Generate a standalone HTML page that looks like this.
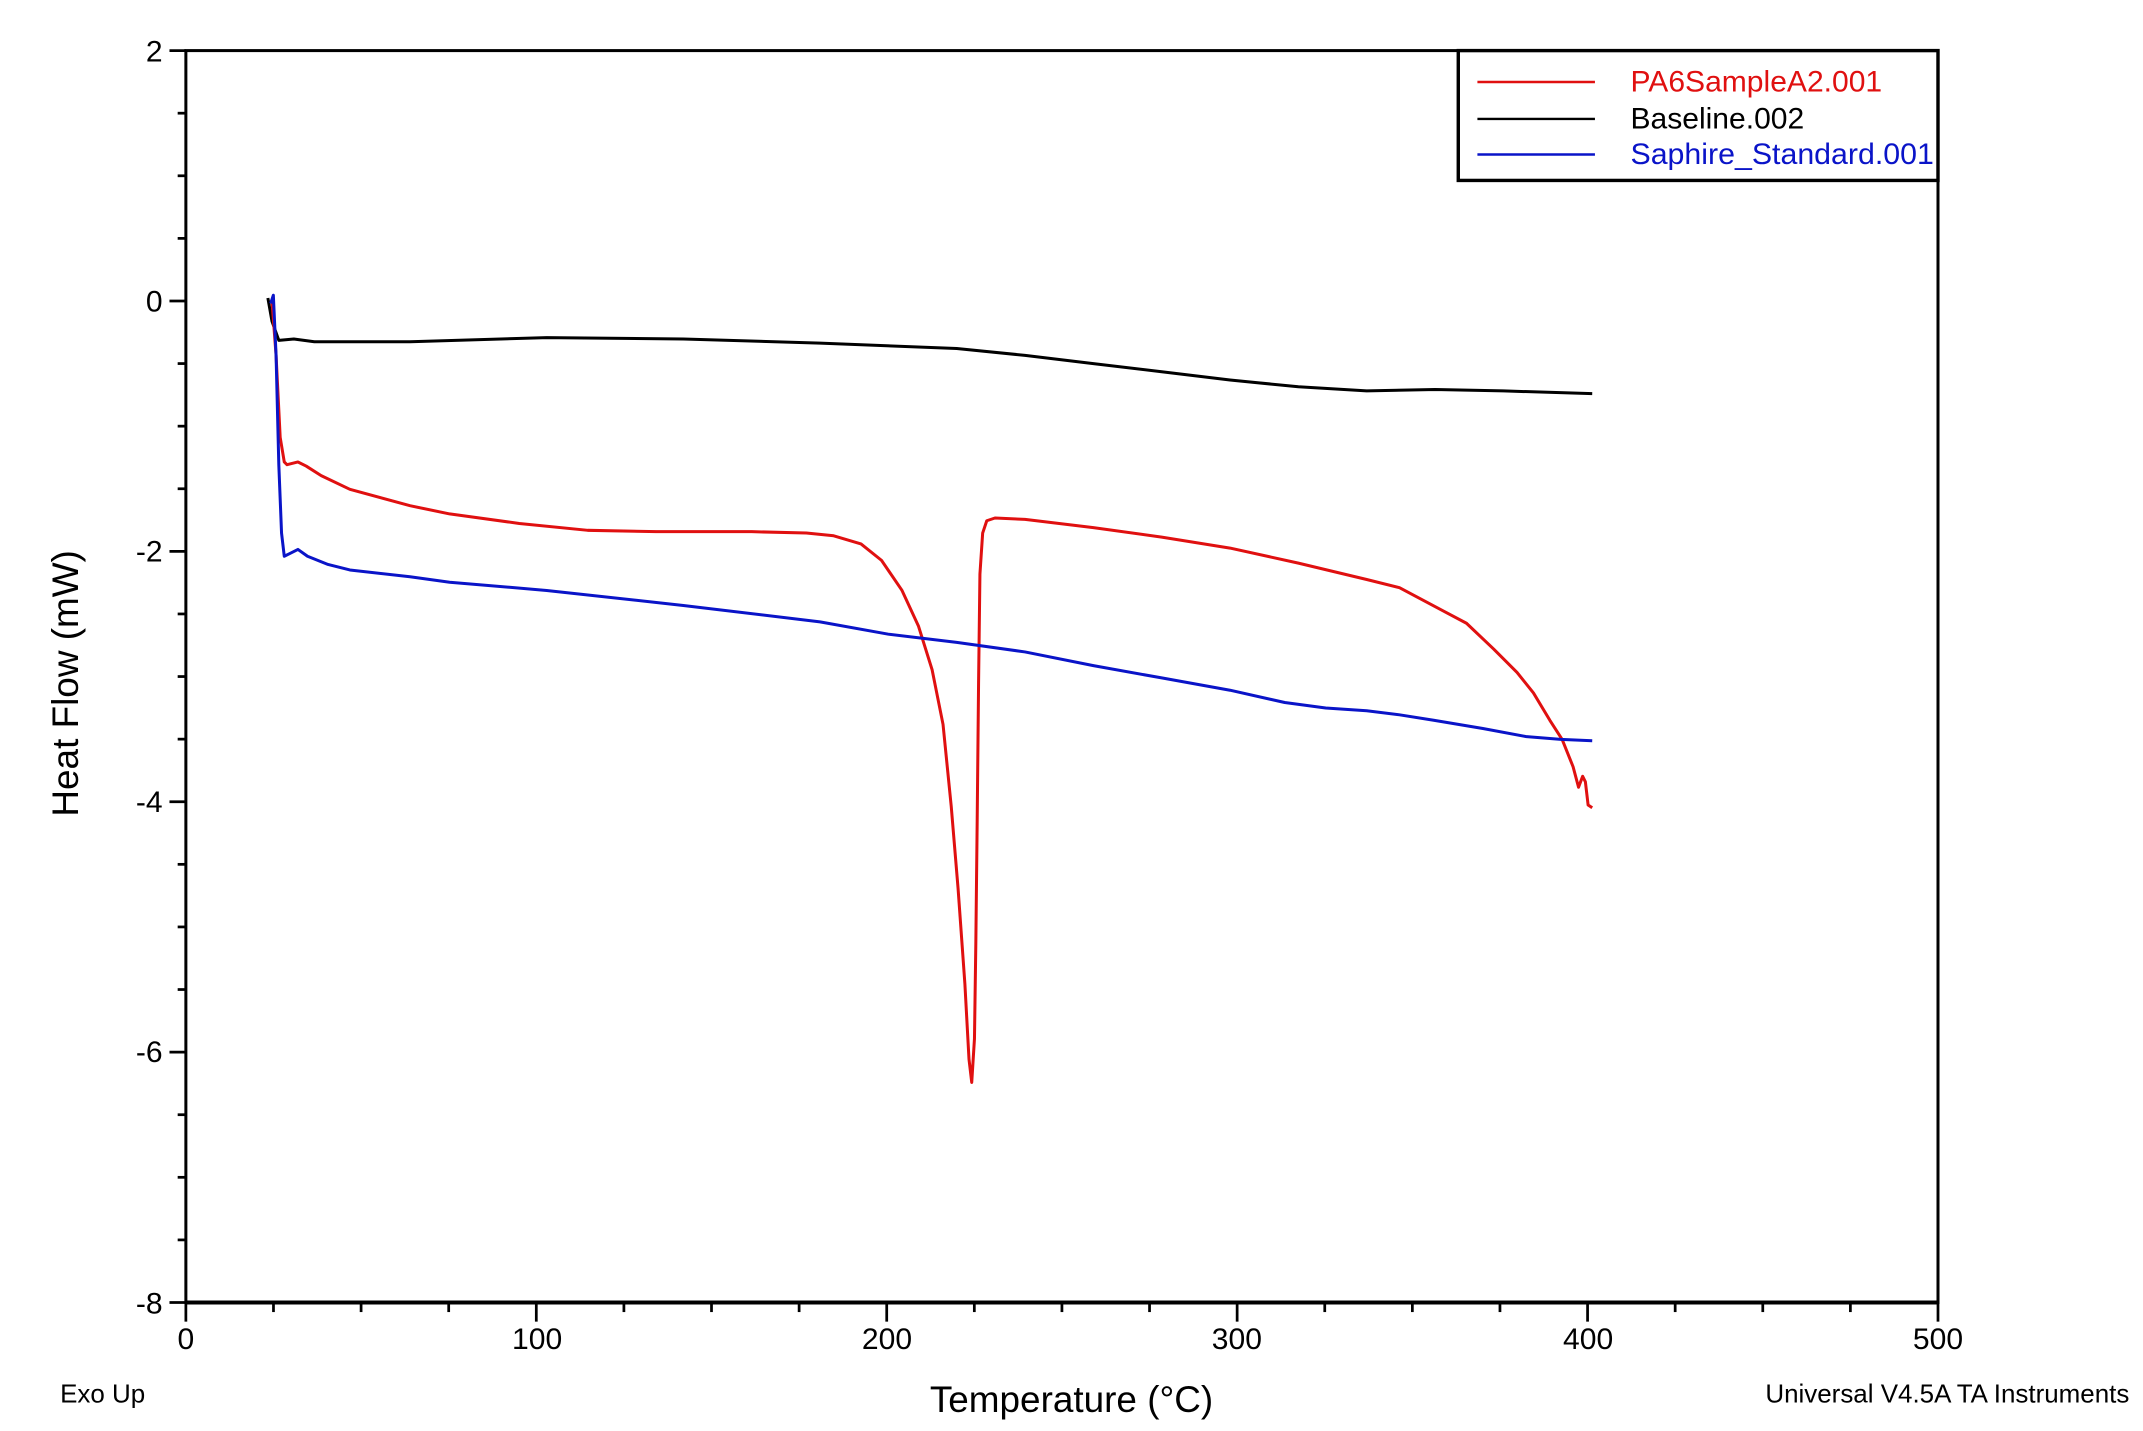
<!DOCTYPE html>
<html><head><meta charset="utf-8"><style>
html,body{margin:0;padding:0;background:#fff;}
svg{display:block;}
text{font-family:"Liberation Sans",Arial,sans-serif;}
</style></head><body>
<svg width="2143" height="1431" viewBox="0 0 1568 1047" xmlns="http://www.w3.org/2000/svg">
<rect width="1568" height="1047" fill="#fff"/>
<g stroke="#000" stroke-width="2">
<line x1="124" y1="37" x2="136" y2="37"/>
<line x1="130" y1="82.8" x2="136" y2="82.8"/>
<line x1="130" y1="128.6" x2="136" y2="128.6"/>
<line x1="130" y1="174.4" x2="136" y2="174.4"/>
<line x1="124" y1="220.2" x2="136" y2="220.2"/>
<line x1="130" y1="266" x2="136" y2="266"/>
<line x1="130" y1="311.8" x2="136" y2="311.8"/>
<line x1="130" y1="357.6" x2="136" y2="357.6"/>
<line x1="124" y1="403.4" x2="136" y2="403.4"/>
<line x1="130" y1="449.2" x2="136" y2="449.2"/>
<line x1="130" y1="495" x2="136" y2="495"/>
<line x1="130" y1="540.8" x2="136" y2="540.8"/>
<line x1="124" y1="586.6" x2="136" y2="586.6"/>
<line x1="130" y1="632.4" x2="136" y2="632.4"/>
<line x1="130" y1="678.2" x2="136" y2="678.2"/>
<line x1="130" y1="724" x2="136" y2="724"/>
<line x1="124" y1="769.8" x2="136" y2="769.8"/>
<line x1="130" y1="815.6" x2="136" y2="815.6"/>
<line x1="130" y1="861.4" x2="136" y2="861.4"/>
<line x1="130" y1="907.2" x2="136" y2="907.2"/>
<line x1="124" y1="953" x2="136" y2="953"/>
<line x1="136" y1="953" x2="136" y2="967"/>
<line x1="200.1" y1="953" x2="200.1" y2="960"/>
<line x1="264.2" y1="953" x2="264.2" y2="960"/>
<line x1="328.3" y1="953" x2="328.3" y2="960"/>
<line x1="392.4" y1="953" x2="392.4" y2="967"/>
<line x1="456.5" y1="953" x2="456.5" y2="960"/>
<line x1="520.6" y1="953" x2="520.6" y2="960"/>
<line x1="584.7" y1="953" x2="584.7" y2="960"/>
<line x1="648.8" y1="953" x2="648.8" y2="967"/>
<line x1="712.9" y1="953" x2="712.9" y2="960"/>
<line x1="777" y1="953" x2="777" y2="960"/>
<line x1="841.1" y1="953" x2="841.1" y2="960"/>
<line x1="905.2" y1="953" x2="905.2" y2="967"/>
<line x1="969.3" y1="953" x2="969.3" y2="960"/>
<line x1="1033.4" y1="953" x2="1033.4" y2="960"/>
<line x1="1097.5" y1="953" x2="1097.5" y2="960"/>
<line x1="1161.6" y1="953" x2="1161.6" y2="967"/>
<line x1="1225.7" y1="953" x2="1225.7" y2="960"/>
<line x1="1289.8" y1="953" x2="1289.8" y2="960"/>
<line x1="1353.9" y1="953" x2="1353.9" y2="960"/>
<line x1="1418" y1="953" x2="1418" y2="967"/>
</g>
<rect x="136" y="37" width="1282" height="916" fill="none" stroke="#000" stroke-width="2.2"/>
<line x1="136" y1="953" x2="1418" y2="953" stroke="#000" stroke-width="3"/>
<g font-size="22" text-anchor="end" fill="#000">
<text x="119" y="45">2</text>
<text x="119" y="228">0</text>
<text x="119" y="411">-2</text>
<text x="119" y="594">-4</text>
<text x="119" y="777">-6</text>
<text x="119" y="961">-8</text>
</g>
<g font-size="22" text-anchor="middle" fill="#000">
<text x="136" y="987">0</text>
<text x="393" y="987">100</text>
<text x="649" y="987">200</text>
<text x="905" y="987">300</text>
<text x="1162" y="987">400</text>
<text x="1418" y="987">500</text>
</g>
<text x="784" y="1033" font-size="27" text-anchor="middle">Temperature (°C)</text>
<text transform="translate(57,500) rotate(-90)" font-size="27" text-anchor="middle">Heat Flow (mW)</text>
<text x="44" y="1026" font-size="19">Exo Up</text>
<text x="1558" y="1026" font-size="19" text-anchor="end">Universal V4.5A TA Instruments</text>
<g fill="none" stroke-width="2.2" stroke-linejoin="round">
<polyline stroke="#000" points="196,218 199,235 204,249 215,248 230,250 300,250 400,247 500,248 600,251 700,255 750,260 800,266 850,272 900,278 950,283 1000,286 1050,285 1100,286 1165,288"/>
<polyline stroke="#e01010" points="199,220 202,260 205,320 208,338 210,340 214,339 218,338 224,341 235,348 256,358 300,370 329,376 380,383 430,388 480,389 550,389 590,390 610,392 630,398 645,410 660,432 672,458 682,490 690,530 696,590 701,650 706,720 709,775 711,792 713,760 714,690 715,600 716,500 717,420 719,390 722,381 728,379 750,380 800,386 850,393 900,401 950,412 1000,424 1024,430 1056,447 1073,456 1093,475 1110,492 1122,507 1134,527 1143,541 1151,561 1155,576 1158,568 1160,572 1162,589 1165,591"/>
<polyline stroke="#0a14c8" points="198,222 200,216 202,260 204,340 206,390 208,407 212,405 218,402 225,407 240,413 256,417 300,422 329,426 400,432 500,443 600,455 650,464 700,470 750,477 800,487 850,496 900,505 940,514 970,518 1000,520 1024,523 1049,527 1085,533 1117,539 1142,541 1165,542"/>
</g>
<rect x="1067" y="37" width="351" height="95" fill="#fff" stroke="#000" stroke-width="2.5"/>
<line x1="1081" y1="60" x2="1167" y2="60" stroke="#e01010" stroke-width="1.8"/>
<line x1="1081" y1="87" x2="1167" y2="87" stroke="#000" stroke-width="1.8"/>
<line x1="1081" y1="113" x2="1167" y2="113" stroke="#0a14c8" stroke-width="1.8"/>
<g font-size="22">
<text x="1193" y="67" fill="#e01010">PA6SampleA2.001</text>
<text x="1193" y="94" fill="#000">Baseline.002</text>
<text x="1193" y="120" fill="#0a14c8" textLength="222" lengthAdjust="spacingAndGlyphs">Saphire_Standard.001</text>
</g>
</svg>
</body></html>
